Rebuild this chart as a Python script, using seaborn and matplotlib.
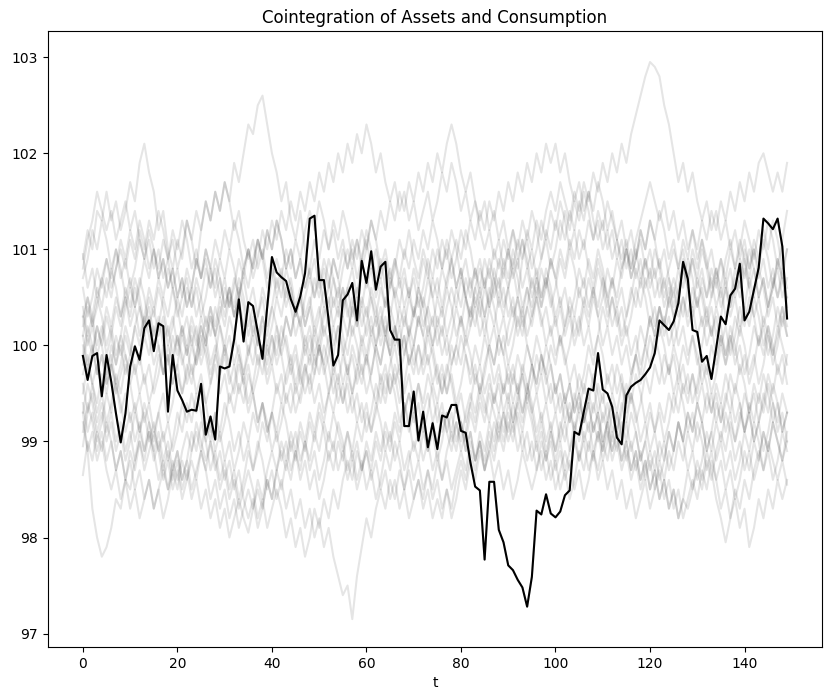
import numpy as np
import pandas as pd
import matplotlib
matplotlib.use("Agg")
import matplotlib.pyplot as plt
import seaborn as sns

title = "Cointegration of Assets and Consumption"
xlabel = "t"

black_path = [99.89, 99.64, 99.89, 99.92, 99.47, 99.90, 99.62, 99.29, 98.99, 99.29,
 99.78, 99.99, 99.85, 100.18, 100.26, 99.94, 100.23, 100.20, 99.31, 99.90,
 99.53, 99.43, 99.31, 99.33, 99.32, 99.60, 99.07, 99.26, 99.02, 99.78,
 99.76, 99.78, 100.06, 100.48, 100.04, 100.45, 100.41, 100.14, 99.86, 100.40,
 100.92, 100.76, 100.71, 100.67, 100.48, 100.35, 100.51, 100.75, 101.32, 101.35,
 100.68, 100.68, 100.26, 99.79, 99.90, 100.47, 100.53, 100.65, 100.26, 100.88,
 100.65, 100.98, 100.58, 100.82, 100.87, 100.16, 100.06, 100.06, 99.16, 99.16,
 99.52, 99.01, 99.31, 98.94, 99.19, 98.92, 99.27, 99.25, 99.38, 99.38,
 99.11, 99.09, 98.78, 98.53, 98.49, 97.77, 98.58, 98.58, 98.08, 97.95,
 97.71, 97.66, 97.56, 97.48, 97.28, 97.59, 98.28, 98.24, 98.45, 98.25,
 98.21, 98.27, 98.44, 98.49, 99.10, 99.07, 99.31, 99.55, 99.53, 99.92,
 99.54, 99.50, 99.36, 99.04, 98.97, 99.48, 99.57, 99.61, 99.64, 99.70,
 99.77, 99.92, 100.26, 100.21, 100.16, 100.25, 100.44, 100.87, 100.69, 100.16,
 100.14, 99.83, 99.89, 99.65, 99.97, 100.30, 100.22, 100.52, 100.59, 100.85,
 100.26, 100.35, 100.58, 100.81, 101.32, 101.27, 101.21, 101.32, 101.03, 100.28]

gray_a = [100.9, 101.2, 101.0, 101.4, 101.3, 101.6, 101.3, 101.5, 101.2, 101.4, 101.7, 101.5, 101.9, 102.1, 101.8,
 101.6, 101.2, 101.4, 101.0, 100.8, 101.1, 100.9, 101.3, 101.1, 100.8, 101.2, 101.5, 101.3, 101.6, 101.4,
 101.7, 101.5, 101.9, 101.7, 102.0, 102.3, 102.2, 102.5, 102.6, 102.3, 102.0, 101.8, 101.5, 101.7, 101.3,
 101.1, 101.4, 101.0, 100.7, 100.9, 100.6, 100.9, 100.7, 100.4, 100.6, 100.3, 100.6, 100.8, 100.5, 100.9,
 101.1, 100.8, 101.0, 100.7, 100.9, 100.6, 100.8, 101.1, 100.9, 101.2, 100.9, 100.7, 101.0, 100.8, 100.5,
 100.7, 100.4, 100.7, 100.9, 100.6, 100.8, 100.5, 100.3, 100.6, 100.4, 100.1, 100.4, 100.2, 100.5, 100.3,
 100.6, 100.8, 100.5, 100.9, 101.1, 100.8, 101.0, 101.3, 101.1, 101.4, 101.2, 101.5, 101.3, 101.0, 101.2,
 100.9, 101.1, 100.8, 100.6, 100.9, 100.7, 100.4, 100.7, 100.5, 100.8, 101.0, 100.7, 100.9, 101.2, 101.0,
 101.3, 101.1, 100.8, 101.0, 100.7, 100.5, 100.8, 100.6, 100.9, 100.7, 100.4, 100.6, 100.3, 100.5, 100.8,
 100.6, 100.9, 101.1, 100.8, 101.0, 101.3, 101.1, 100.9, 101.2, 101.0, 101.3, 101.1, 100.8, 101.1, 101.4]

gray_b = [99.3, 98.9, 98.3, 98.0, 97.8, 97.9, 98.1, 98.4, 98.3, 98.6, 98.5, 98.8, 99.1, 98.9, 99.2,
 99.0, 99.3, 99.5, 99.2, 99.4, 99.7, 99.5, 99.8, 99.6, 99.9, 100.2, 100.0, 100.3, 100.1, 99.8,
 100.0, 99.7, 99.5, 99.8, 99.6, 99.3, 99.5, 99.2, 99.4, 99.1, 99.3, 99.6, 99.4, 99.7, 99.9,
 99.6, 99.8, 100.1, 99.9, 100.2, 100.0, 100.3, 100.5, 100.2, 100.4, 100.1, 99.9, 100.2, 100.0, 99.7,
 99.9, 99.6, 99.4, 99.7, 99.5, 99.8, 100.0, 99.7, 99.9, 100.2, 100.0, 100.3, 100.1, 99.8, 100.0,
 99.7, 99.5, 99.8, 99.6, 99.3, 99.5, 99.2, 99.4, 99.7, 99.5, 99.8, 100.0, 99.8, 100.1, 99.9,
 100.2, 100.4, 100.1, 100.3, 100.0, 99.8, 100.1, 99.9, 99.6, 99.8, 99.5, 99.7, 99.4, 99.6, 99.3,
 99.5, 99.2, 99.4, 99.1, 99.3, 99.0, 99.2, 99.5, 99.3, 99.6, 99.4, 99.7, 99.9, 99.6, 99.8,
 100.1, 99.9, 100.2, 100.0, 99.7, 99.9, 99.6, 99.8, 99.5, 99.7, 99.4, 99.6, 99.3, 99.5, 99.2,
 99.4, 99.1, 99.3, 99.0, 99.2, 99.5, 99.3, 99.6, 99.4, 99.7, 99.5, 99.2, 99.4, 99.1, 99.3]

gray_c = [99.1, 99.4, 99.2, 98.9, 99.1, 98.8, 99.0, 98.7, 98.9, 98.6, 98.9, 98.7, 99.0, 98.8, 99.1,
 98.9, 98.6, 98.8, 98.5, 98.7, 98.9, 98.6, 98.8, 99.1, 98.9, 99.2, 99.0, 98.7, 98.9, 98.6,
 98.8, 98.5, 98.7, 98.4, 98.6, 98.9, 98.7, 99.0, 98.8, 98.5, 98.7, 98.4, 98.6, 98.3, 98.5,
 98.2, 98.4, 98.1, 98.3, 98.0, 98.2, 97.9, 98.1, 97.8, 97.6, 97.4, 97.5, 97.15, 97.6, 97.9,
 98.2, 98.0, 98.3, 98.5, 98.3, 98.6, 98.4, 98.7, 98.5, 98.8, 99.0, 98.8, 99.1, 98.9, 99.2,
 99.0, 99.3, 99.1, 98.9, 99.2, 99.0, 99.3, 99.5, 99.3, 99.6, 99.4, 99.2, 99.5, 99.3, 99.6,
 99.4, 99.7, 99.5, 99.8, 99.6, 99.3, 99.5, 99.2, 99.4, 99.1, 99.3, 99.0, 99.2, 98.9, 99.1,
 98.8, 99.0, 98.7, 98.9, 98.6, 98.8, 98.5, 98.7, 98.4, 98.6, 98.3, 98.5, 98.2, 98.4, 98.6,
 98.3, 98.5, 98.8, 98.6, 98.9, 98.7, 99.0, 98.8, 99.1, 98.9, 99.2, 99.0, 98.7, 98.9, 98.6,
 98.8, 98.5, 98.7, 98.4, 98.6, 98.9, 98.7, 99.0, 98.8, 99.1, 98.9, 99.2, 99.0, 98.8, 99.1]

gray_d = [100.3, 100.0, 100.2, 99.9, 100.1, 100.4, 100.2, 100.5, 100.3, 100.6, 100.4, 100.7, 100.5, 100.2, 100.4,
 100.1, 100.3, 100.0, 100.2, 99.9, 100.1, 99.8, 100.0, 99.7, 99.9, 100.2, 100.0, 100.3, 100.1, 100.4,
 100.2, 100.5, 100.3, 100.6, 100.4, 100.1, 100.3, 100.0, 100.2, 99.9, 100.1, 99.8, 100.0, 100.3, 100.1,
 100.4, 100.2, 100.5, 100.7, 100.5, 100.8, 100.6, 100.9, 100.7, 100.4, 100.6, 100.3, 100.5, 100.2, 100.4,
 100.1, 100.3, 100.0, 100.2, 100.5, 100.3, 100.6, 100.4, 100.7, 100.5, 100.8, 100.6, 100.9, 100.7, 101.0,
 100.8, 101.1, 100.9, 101.2, 101.0, 100.7, 100.9, 100.6, 100.8, 100.5, 100.7, 100.4, 100.6, 100.9, 100.7,
 101.0, 100.8, 101.1, 100.9, 101.2, 101.0, 101.3, 101.1, 101.4, 101.6, 101.4, 101.7, 101.5, 101.3, 101.6,
 101.4, 101.7, 101.5, 101.8, 101.6, 101.9, 101.7, 102.0, 101.8, 102.1, 101.9, 102.2, 102.4, 102.6, 102.8,
 102.95, 102.9, 102.8, 102.5, 102.3, 102.0, 101.7, 101.9, 101.6, 101.8, 101.5, 101.3, 101.5, 101.2, 101.4,
 101.1, 101.3, 101.0, 101.2, 100.9, 101.1, 100.8, 101.0, 100.7, 100.9, 100.6, 100.8, 100.5, 100.7, 100.4]

gray_e = [100.95, 100.6, 100.8, 100.5, 100.7, 100.9, 100.6, 100.8, 101.1, 100.9, 101.2, 101.0, 101.3, 101.1, 100.8,
 101.0, 100.7, 100.9, 100.6, 100.8, 100.5, 100.7, 100.4, 100.6, 100.9, 100.7, 101.0, 100.8, 101.1, 100.9,
 101.2, 101.0, 101.3, 101.1, 100.8, 101.0, 100.7, 100.9, 101.2, 101.0, 101.3, 101.1, 101.4, 101.2, 101.5,
 101.3, 101.6, 101.4, 101.7, 101.5, 101.8, 101.6, 101.9, 101.7, 102.0, 101.8, 102.1, 101.9, 102.2, 102.0,
 102.3, 102.1, 101.8, 102.0, 101.7, 101.5, 101.7, 101.4, 101.6, 101.3, 101.5, 101.2, 101.4, 101.6, 101.3,
 101.5, 101.8, 101.6, 101.9, 101.7, 101.4, 101.6, 101.3, 101.5, 101.2, 101.0, 101.2, 100.9, 101.1, 100.8,
 101.0, 100.7, 100.9, 100.6, 100.8, 100.5, 100.7, 100.4, 100.6, 100.9, 100.7, 101.0, 100.8, 101.1, 100.9,
 101.2, 101.0, 101.3, 101.1, 101.4, 101.2, 101.5, 101.3, 101.1, 101.3, 101.0, 101.2, 100.9, 101.1, 100.8,
 101.0, 100.7, 100.9, 100.6, 100.8, 101.0, 100.8, 101.1, 100.9, 101.2, 101.0, 101.3, 101.1, 101.4, 101.2,
 101.5, 101.3, 101.6, 101.4, 101.7, 101.5, 101.8, 101.6, 101.9, 102.0, 101.8, 101.6, 101.8, 101.6, 101.9]

gray_f = [98.65, 99.0, 98.8, 99.1, 98.9, 99.2, 99.0, 98.7, 98.9, 98.6, 98.8, 98.5, 98.7, 98.4, 98.6,
 98.3, 98.5, 98.7, 98.5, 98.8, 98.6, 98.9, 99.1, 98.9, 99.2, 99.0, 98.8, 99.0, 98.7, 98.9,
 98.6, 98.8, 98.5, 98.7, 98.4, 98.2, 98.4, 98.1, 98.3, 98.6, 98.4, 98.7, 98.5, 98.8, 98.6,
 98.9, 98.7, 99.0, 98.8, 99.1, 98.9, 99.2, 99.0, 99.3, 99.1, 98.9, 99.1, 98.8, 99.0, 98.7,
 98.9, 98.6, 98.8, 98.5, 98.7, 98.4, 98.6, 98.3, 98.5, 98.2, 98.4, 98.6, 98.4, 98.7, 98.5,
 98.8, 98.6, 98.9, 99.1, 98.9, 99.2, 99.0, 99.3, 99.1, 99.4, 99.2, 99.5, 99.3, 99.1, 99.3,
 99.0, 99.2, 98.9, 99.1, 98.8, 99.0, 98.7, 98.9, 98.6, 98.8, 98.5, 98.7, 98.9, 98.7, 99.0,
 98.8, 99.1, 98.9, 99.2, 99.0, 99.3, 99.1, 98.9, 99.1, 98.8, 99.0, 98.7, 98.9, 98.6, 98.8,
 98.5, 98.7, 98.4, 98.6, 98.3, 98.5, 98.2, 98.4, 98.7, 98.5, 98.8, 98.6, 98.9, 98.7, 98.4,
 98.2, 97.95, 98.2, 98.5, 98.3, 98.6, 98.4, 98.7, 98.9, 98.7, 99.0, 98.8, 98.6, 98.8, 98.55]

gray_g = [100.0, 99.7, 99.9, 100.2, 100.0, 100.3, 100.1, 99.8, 100.0, 99.7, 99.9, 100.2, 100.4, 100.2, 100.5,
 100.3, 100.6, 100.4, 100.1, 100.3, 100.0, 100.2, 99.9, 100.1, 99.8, 100.0, 100.3, 100.1, 100.4, 100.2,
 99.9, 100.1, 99.8, 100.0, 99.7, 99.9, 100.2, 100.0, 100.3, 100.1, 100.4, 100.2, 99.9, 100.1, 99.8,
 100.0, 99.7, 99.5, 99.7, 99.4, 99.6, 99.3, 99.5, 99.8, 99.6, 99.9, 99.7, 100.0, 99.8, 100.1,
 99.9, 100.2, 100.0, 100.3, 100.1, 100.4, 100.2, 99.9, 100.1, 99.8, 100.0, 99.7, 99.9, 100.2, 100.0,
 100.3, 100.1, 100.4, 100.6, 100.4, 100.7, 100.5, 100.2, 100.4, 100.1, 100.3, 100.0, 100.2, 99.9, 100.1,
 99.8, 100.0, 100.3, 100.1, 100.4, 100.2, 100.5, 100.3, 100.0, 100.2, 99.9, 100.1, 99.8, 100.0, 100.3,
 100.1, 100.4, 100.2, 100.5, 100.3, 100.0, 100.2, 99.9, 100.1, 99.8, 100.0, 99.7, 99.9, 100.2, 100.0,
 100.3, 100.1, 100.4, 100.2, 100.5, 100.7, 100.5, 100.8, 100.6, 100.3, 100.5, 100.2, 100.4, 100.1, 100.3,
 100.0, 100.2, 99.9, 100.1, 100.4, 100.2, 100.5, 100.3, 100.0, 100.2, 99.9, 100.1, 100.4, 100.2, 100.5]

gray_h = [99.5, 99.8, 99.6, 99.3, 99.5, 99.2, 99.4, 99.7, 99.5, 99.8, 99.6, 99.3, 99.5, 99.2, 99.4,
 99.1, 99.3, 99.0, 99.2, 98.9, 99.1, 99.4, 99.2, 99.5, 99.3, 99.6, 99.4, 99.1, 99.3, 99.0,
 99.2, 99.5, 99.3, 99.6, 99.4, 99.7, 99.5, 99.2, 99.4, 99.1, 99.3, 99.0, 99.2, 99.5, 99.3,
 99.6, 99.4, 99.7, 99.9, 99.7, 100.0, 99.8, 99.5, 99.7, 99.4, 99.6, 99.3, 99.5, 99.2, 99.4,
 99.1, 99.3, 99.6, 99.4, 99.7, 99.5, 99.8, 99.6, 99.3, 99.5, 99.2, 99.4, 99.1, 99.3, 99.6,
 99.4, 99.7, 99.5, 99.8, 100.0, 99.8, 100.1, 99.9, 99.6, 99.8, 99.5, 99.7, 99.4, 99.6, 99.3,
 99.5, 99.2, 99.4, 99.7, 99.5, 99.8, 99.6, 99.9, 99.7, 99.4, 99.6, 99.3, 99.5, 99.2, 99.4,
 99.7, 99.5, 99.8, 99.6, 99.3, 99.5, 99.2, 99.4, 99.1, 99.3, 99.6, 99.4, 99.7, 99.5, 99.2,
 99.4, 99.1, 99.3, 99.0, 99.2, 99.5, 99.3, 99.6, 99.4, 99.7, 99.5, 99.8, 99.6, 99.3, 99.5,
 99.2, 99.4, 99.7, 99.5, 99.8, 99.6, 99.3, 99.5, 99.2, 99.4, 99.7, 99.5, 99.8, 99.6, 99.9]

gray_i = [100.6, 100.3, 100.5, 100.8, 100.6, 100.9, 100.7, 101.0, 100.8, 100.5, 100.7, 100.4, 100.6, 100.9, 100.7,
 101.0, 100.8, 101.1, 100.9, 100.6, 100.8, 100.5, 100.7, 100.4, 100.6, 100.3, 100.5, 100.8, 100.6, 100.9,
 100.7, 101.0, 100.8, 100.5, 100.7, 100.4, 100.6, 100.3, 100.5, 100.2, 100.4, 100.7, 100.5, 100.8, 100.6,
 100.3, 100.5, 100.2, 100.4, 100.1, 100.3, 100.6, 100.4, 100.7, 100.5, 100.8, 101.0, 100.8, 101.1, 100.9,
 101.2, 101.0, 100.7, 100.9, 100.6, 100.8, 100.5, 100.7, 100.4, 100.6, 100.3, 100.5, 100.2, 100.4, 100.7,
 100.5, 100.8, 100.6, 100.9, 101.1, 100.9, 101.2, 101.0, 100.7, 100.9, 100.6, 100.8, 100.5, 100.7, 100.4,
 100.6, 100.3, 100.5, 100.2, 100.4, 100.7, 100.5, 100.8, 100.6, 100.9, 100.7, 100.4, 100.6, 100.3, 100.5,
 100.8, 100.6, 100.9, 100.7, 101.0, 100.8, 100.5, 100.7, 100.4, 100.6, 100.3, 100.5, 100.8, 100.6, 100.9,
 100.7, 101.0, 100.8, 100.5, 100.7, 100.4, 100.6, 100.9, 100.7, 101.0, 100.8, 101.1, 100.9, 100.6, 100.8,
 100.5, 100.7, 100.4, 100.6, 100.9, 100.7, 101.0, 100.8, 100.5, 100.7, 100.4, 100.6, 100.9, 100.7, 100.5]

gray_j = [99.2, 98.9, 99.1, 98.8, 99.0, 98.7, 98.5, 98.7, 98.4, 98.6, 98.3, 98.5, 98.2, 98.4, 98.6,
 98.3, 98.5, 98.2, 98.4, 98.7, 98.5, 98.8, 98.6, 98.9, 99.1, 98.9, 99.2, 99.0, 99.3, 99.1,
 99.4, 99.2, 98.9, 99.1, 98.8, 99.0, 98.7, 98.9, 99.2, 99.0, 99.3, 99.1, 99.4, 99.2, 98.9,
 99.1, 98.8, 99.0, 98.7, 98.9, 98.6, 98.8, 99.1, 98.9, 99.2, 99.0, 98.7, 98.9, 98.6, 98.8,
 98.5, 98.7, 98.4, 98.6, 98.9, 98.7, 99.0, 98.8, 98.5, 98.7, 98.4, 98.6, 98.3, 98.5, 98.2,
 98.4, 98.2, 98.5, 98.3, 98.6, 98.8, 98.6, 98.9, 98.7, 99.0, 98.8, 99.1, 98.9, 99.2, 99.0,
 99.3, 99.1, 99.4, 99.2, 99.5, 99.3, 99.0, 99.2, 98.9, 99.1, 98.8, 99.0, 98.7, 98.9, 99.2,
 99.0, 99.3, 99.1, 99.4, 99.2, 98.9, 99.1, 98.8, 99.0, 98.7, 98.9, 98.6, 98.8, 98.5, 98.7,
 98.9, 98.7, 99.0, 98.8, 99.1, 98.9, 99.2, 99.0, 98.7, 98.9, 98.6, 98.8, 99.1, 98.9, 99.2,
 99.0, 99.3, 99.1, 98.8, 99.0, 98.7, 98.9, 98.6, 98.8, 99.1, 98.9, 99.2, 99.0, 98.8, 99.0]

gray_k = [100.8, 101.1, 101.3, 101.6, 101.4, 101.2, 101.4, 101.1, 101.3, 101.5, 101.2, 101.4, 101.1, 100.9, 101.1,
 100.8, 101.0, 100.7, 100.9, 101.2, 101.0, 101.3, 101.1, 100.8, 101.0, 100.7, 100.9, 100.6, 100.8, 100.5,
 100.7, 100.4, 100.6, 100.9, 100.7, 101.0, 100.8, 101.1, 100.9, 101.2, 101.0, 101.3, 101.1, 100.8, 101.0,
 100.7, 100.9, 100.6, 100.8, 101.1, 100.9, 101.2, 101.0, 101.3, 101.1, 101.4, 101.2, 100.9, 101.1, 100.8,
 101.0, 101.3, 101.1, 101.4, 101.2, 101.5, 101.3, 101.6, 101.4, 101.7, 101.5, 101.8, 101.6, 101.9, 101.7,
 102.0, 101.8, 102.1, 102.3, 102.1, 101.8, 101.6, 101.8, 101.5, 101.3, 101.5, 101.2, 101.4, 101.1, 101.3,
 101.0, 101.2, 100.9, 101.1, 100.8, 101.0, 100.7, 100.9, 101.2, 101.0, 101.3, 101.1, 101.4, 101.2, 101.5,
 101.3, 101.6, 101.4, 101.1, 101.3, 101.0, 101.2, 100.9, 101.1, 100.8, 101.0, 100.7, 100.9, 101.2, 101.0,
 101.3, 101.1, 101.4, 101.2, 100.9, 101.1, 100.8, 101.0, 100.7, 100.9, 100.6, 100.8, 100.5, 100.7, 100.4,
 100.6, 100.3, 100.5, 100.8, 100.6, 100.9, 100.7, 101.0, 100.8, 101.1, 100.9, 100.6, 100.8, 100.5, 100.7]

gray_l = [99.8, 100.1, 99.9, 100.2, 100.0, 99.7, 99.9, 99.6, 99.8, 100.1, 99.9, 100.2, 100.0, 100.3, 100.1,
 99.8, 100.0, 99.7, 99.9, 99.6, 99.8, 99.5, 99.7, 100.0, 99.8, 100.1, 99.9, 99.6, 99.8, 99.5,
 99.7, 99.4, 99.6, 99.9, 99.7, 100.0, 99.8, 100.1, 99.9, 99.6, 99.8, 99.5, 99.7, 99.4, 99.6,
 99.3, 99.5, 99.8, 99.6, 99.9, 99.7, 100.0, 99.8, 99.5, 99.7, 99.4, 99.6, 99.3, 99.5, 99.2,
 99.4, 99.1, 99.3, 99.6, 99.4, 99.7, 99.5, 99.2, 99.4, 99.1, 99.3, 99.0, 99.2, 98.9, 99.1,
 98.8, 99.0, 99.3, 99.1, 99.4, 99.2, 98.9, 99.1, 98.8, 99.0, 98.7, 98.9, 98.6, 98.8, 98.5,
 98.7, 98.4, 98.6, 98.9, 98.7, 98.5, 98.7, 99.0, 98.8, 99.1, 98.9, 99.2, 99.0, 99.3, 99.1,
 99.4, 99.2, 99.5, 99.3, 99.6, 99.4, 99.7, 99.5, 99.8, 99.6, 99.3, 99.5, 99.2, 99.4, 99.7,
 99.5, 99.8, 99.6, 99.9, 99.7, 100.0, 99.8, 99.5, 99.7, 99.4, 99.6, 99.9, 99.7, 100.0, 99.8,
 100.1, 99.9, 100.2, 100.0, 99.7, 99.9, 99.6, 99.8, 100.1, 99.9, 100.2, 100.0, 99.7, 99.9, 99.6]

gray_m = [100.3, 100.5, 100.2, 100.4, 100.7, 100.5, 100.8, 100.6, 100.3, 100.5, 100.2, 100.4, 100.1, 100.3, 100.6,
 100.4, 100.7, 100.5, 100.8, 100.6, 100.3, 100.5, 100.8, 100.6, 100.9, 100.7, 101.0, 100.8, 100.5, 100.7,
 100.4, 100.6, 100.3, 100.5, 100.2, 100.4, 100.1, 100.3, 100.6, 100.4, 100.7, 100.9, 100.7, 101.0, 100.8,
 101.1, 100.9, 101.2, 101.4, 101.2, 101.5, 101.3, 101.0, 101.2, 100.9, 101.1, 100.8, 101.0, 100.7, 100.9,
 100.6, 100.8, 100.5, 100.7, 100.4, 100.6, 100.9, 100.7, 101.0, 100.8, 101.1, 100.9, 101.2, 101.0, 101.3,
 101.1, 100.8, 101.0, 100.7, 100.9, 101.2, 101.0, 101.3, 101.1, 101.4, 101.2, 101.5, 101.3, 101.6, 101.4,
 101.7, 101.5, 101.8, 101.6, 101.9, 101.7, 102.0, 101.8, 102.1, 101.9, 102.1, 101.8, 102.0, 101.7, 101.5,
 101.7, 101.4, 101.6, 101.3, 101.1, 101.3, 101.0, 101.2, 100.9, 101.1, 100.8, 101.0, 100.7, 100.9, 100.6,
 100.8, 100.5, 100.7, 100.4, 100.6, 100.3, 100.5, 100.8, 100.6, 100.9, 100.7, 101.0, 100.8, 100.5, 100.7,
 100.4, 100.6, 100.3, 100.5, 100.2, 100.4, 100.7, 100.5, 100.8, 100.6, 100.3, 100.5, 100.2, 100.4, 100.1]

gray_n = [99.6, 99.3, 99.5, 99.2, 99.4, 99.1, 99.3, 99.0, 99.2, 98.9, 99.1, 98.8, 99.0, 98.7, 98.9,
 99.1, 98.9, 98.6, 98.8, 98.5, 98.7, 98.4, 98.6, 98.8, 98.6, 98.9, 98.7, 98.4, 98.6, 98.3,
 98.5, 98.2, 98.4, 98.1, 98.3, 98.5, 98.3, 98.6, 98.4, 98.7, 98.9, 98.7, 99.0, 98.8, 99.1,
 98.9, 99.2, 99.0, 99.3, 99.1, 99.4, 99.2, 99.5, 99.3, 99.6, 99.4, 99.7, 99.5, 99.8, 99.6,
 99.9, 99.7, 100.0, 99.8, 100.1, 99.9, 99.6, 99.8, 99.5, 99.7, 99.4, 99.6, 99.3, 99.5, 99.2,
 99.4, 99.1, 99.3, 99.0, 99.2, 98.9, 99.1, 99.4, 99.2, 99.5, 99.3, 99.6, 99.4, 99.7, 99.5,
 99.8, 99.6, 99.9, 99.7, 100.0, 99.8, 99.5, 99.7, 99.4, 99.6, 99.3, 99.5, 99.2, 99.4, 99.1,
 99.3, 99.0, 99.2, 98.9, 99.1, 98.8, 99.0, 99.3, 99.1, 99.4, 99.2, 99.5, 99.3, 99.0, 99.2,
 98.9, 99.1, 98.8, 99.0, 98.7, 98.9, 99.2, 99.0, 99.3, 99.1, 99.4, 99.2, 99.5, 99.3, 99.6,
 99.4, 99.7, 99.5, 99.2, 99.4, 99.1, 99.3, 99.0, 99.2, 99.5, 99.3, 99.6, 99.4, 99.1, 99.3]

gray_o = [100.4, 100.1, 100.3, 100.6, 100.4, 100.7, 100.5, 100.8, 101.0, 100.8, 101.1, 100.9, 101.2, 101.0, 101.3,
 101.1, 101.4, 101.2, 100.9, 101.1, 100.8, 101.0, 101.3, 101.1, 101.4, 101.2, 101.5, 101.3, 101.6, 101.4,
 101.7, 101.5, 101.2, 101.4, 101.1, 100.9, 101.1, 100.8, 101.0, 100.7, 100.9, 100.6, 100.8, 100.5, 100.7,
 100.4, 100.6, 100.3, 100.5, 100.2, 100.4, 100.1, 100.3, 100.0, 100.2, 99.9, 100.1, 100.4, 100.2, 100.5,
 100.3, 100.6, 100.4, 100.1, 100.3, 100.0, 100.2, 99.9, 100.1, 99.8, 100.0, 100.3, 100.1, 100.4, 100.2,
 100.5, 100.3, 100.6, 100.4, 100.1, 100.3, 100.0, 100.2, 100.5, 100.3, 100.6, 100.4, 100.7, 100.5, 100.8,
 100.6, 100.9, 100.7, 100.4, 100.6, 100.3, 100.5, 100.2, 100.4, 100.1, 100.3, 100.0, 100.2, 100.5, 100.3,
 100.6, 100.4, 100.7, 100.5, 100.8, 100.6, 100.3, 100.5, 100.2, 100.4, 100.1, 100.3, 100.6, 100.4, 100.7,
 100.5, 100.2, 100.4, 100.1, 100.3, 100.0, 100.2, 100.5, 100.3, 100.6, 100.4, 100.7, 100.5, 100.8, 100.6,
 100.9, 100.7, 101.0, 100.8, 101.1, 100.9, 100.6, 100.8, 100.5, 100.7, 100.4, 100.6, 100.9, 100.7, 101.0]

gray_p = [99.3, 99.6, 99.4, 99.1, 99.3, 99.0, 99.2, 98.9, 99.1, 98.8, 99.0, 99.3, 99.1, 99.4, 99.2,
 98.9, 99.1, 98.8, 99.0, 98.7, 98.9, 98.6, 98.8, 98.5, 98.7, 98.9, 98.7, 99.0, 98.8, 98.5,
 98.7, 98.4, 98.6, 98.3, 98.5, 98.7, 98.5, 98.2, 98.4, 98.1, 98.3, 98.5, 98.3, 98.0, 98.2,
 97.9, 98.1, 97.8, 98.0, 98.3, 98.1, 98.4, 98.2, 98.5, 98.3, 98.6, 98.8, 98.6, 98.9, 98.7,
 99.0, 98.8, 99.1, 98.9, 99.2, 99.0, 99.3, 99.1, 99.4, 99.2, 98.9, 99.1, 98.8, 99.0, 98.7,
 98.9, 98.6, 98.8, 98.5, 98.7, 98.9, 98.7, 99.0, 98.8, 99.1, 98.9, 99.2, 99.0, 99.3, 99.1,
 99.4, 99.2, 99.5, 99.3, 99.6, 99.4, 99.1, 99.3, 99.0, 99.2, 98.9, 99.1, 99.4, 99.2, 99.5,
 99.3, 99.6, 99.4, 99.7, 99.5, 99.2, 99.4, 99.1, 99.3, 99.0, 99.2, 98.9, 99.1, 98.8, 99.0,
 99.3, 99.1, 99.4, 99.2, 99.5, 99.3, 99.6, 99.4, 99.1, 99.3, 99.0, 99.2, 98.9, 99.1, 99.4,
 99.2, 99.5, 99.3, 99.6, 99.4, 99.1, 99.3, 99.0, 99.2, 98.9, 99.1, 99.4, 99.2, 99.5, 99.3]

gray_q = [100.1, 99.8, 100.0, 99.7, 99.9, 99.6, 99.8, 100.1, 99.9, 100.2, 100.0, 99.7, 99.9, 99.6, 99.8,
 99.5, 99.7, 100.0, 99.8, 100.1, 99.9, 100.2, 100.0, 100.3, 100.1, 99.8, 100.0, 99.7, 99.9, 100.2,
 100.0, 100.3, 100.1, 100.4, 100.2, 99.9, 100.1, 99.8, 100.0, 99.7, 99.9, 100.2, 100.0, 100.3, 100.1,
 100.4, 100.2, 99.9, 100.1, 99.8, 100.0, 99.7, 99.9, 100.2, 100.0, 100.3, 100.1, 100.4, 100.6, 100.4,
 100.7, 100.5, 100.2, 100.4, 100.1, 100.3, 100.0, 100.2, 99.9, 100.1, 100.4, 100.2, 100.5, 100.3, 100.0,
 100.2, 99.9, 100.1, 99.8, 100.0, 100.3, 100.1, 100.4, 100.2, 100.5, 100.3, 100.6, 100.4, 100.1, 100.3,
 100.0, 100.2, 100.5, 100.3, 100.6, 100.4, 100.7, 100.5, 100.8, 100.6, 100.3, 100.5, 100.2, 100.4, 100.1,
 100.3, 100.0, 100.2, 99.9, 100.1, 100.4, 100.2, 100.5, 100.3, 100.0, 100.2, 99.9, 100.1, 99.8, 100.0,
 100.3, 100.1, 100.4, 100.2, 100.5, 100.3, 100.0, 100.2, 99.9, 100.1, 99.8, 100.0, 100.3, 100.1, 100.4,
 100.2, 99.9, 100.1, 99.8, 100.0, 99.7, 99.9, 100.2, 100.0, 100.3, 100.1, 99.8, 100.0, 100.3, 100.1]

gray_r = [99.7, 99.9, 99.6, 99.8, 99.5, 99.7, 100.0, 99.8, 100.1, 99.9, 99.6, 99.8, 99.5, 99.7, 99.4,
 99.6, 99.9, 99.7, 100.0, 99.8, 100.1, 99.9, 99.6, 99.8, 99.5, 99.7, 99.4, 99.6, 99.9, 99.7,
 100.0, 99.8, 100.1, 99.9, 99.6, 99.8, 99.5, 99.7, 100.0, 99.8, 100.1, 99.9, 100.2, 100.0, 99.7,
 99.9, 99.6, 99.8, 99.5, 99.7, 100.0, 99.8, 100.1, 99.9, 100.2, 100.0, 99.7, 99.9, 99.6, 99.8,
 99.5, 99.7, 100.0, 99.8, 100.1, 99.9, 100.2, 100.0, 100.3, 100.1, 99.8, 100.0, 99.7, 99.9, 99.6,
 99.8, 99.5, 99.7, 100.0, 99.8, 100.1, 99.9, 99.6, 99.8, 99.5, 99.7, 100.0, 99.8, 100.1, 99.9,
 99.6, 99.8, 99.5, 99.7, 99.4, 99.6, 99.9, 99.7, 100.0, 99.8, 99.5, 99.7, 99.4, 99.6, 99.3,
 99.5, 99.2, 99.4, 99.1, 99.3, 99.0, 99.2, 98.9, 99.1, 98.8, 99.0, 98.7, 98.9, 98.6, 98.8,
 98.5, 98.7, 98.4, 98.6, 98.3, 98.5, 98.2, 98.4, 98.3, 98.5, 98.7, 98.5, 98.8, 98.6, 98.9,
 99.1, 98.9, 99.2, 99.0, 99.3, 99.1, 99.4, 99.2, 99.5, 99.3, 99.6, 99.4, 99.1, 99.3, 99.0]

gray_s = [100.2, 100.5, 100.3, 100.0, 100.2, 99.9, 100.1, 100.4, 100.2, 100.5, 100.3, 100.6, 100.4, 100.1, 100.3,
 100.0, 100.2, 100.5, 100.3, 100.6, 100.4, 100.1, 100.3, 100.0, 100.2, 99.9, 100.1, 100.4, 100.2, 100.5,
 100.3, 100.6, 100.4, 100.7, 100.5, 100.2, 100.4, 100.1, 100.3, 100.0, 100.2, 100.5, 100.3, 100.6, 100.4,
 100.1, 100.3, 100.0, 100.2, 99.9, 100.1, 100.4, 100.2, 100.5, 100.3, 100.6, 100.4, 100.1, 100.3, 100.0,
 100.2, 100.5, 100.3, 100.6, 100.4, 100.7, 100.5, 100.2, 100.4, 100.1, 100.3, 100.6, 100.4, 100.7, 100.5,
 100.2, 100.4, 100.1, 100.3, 100.6, 100.4, 100.7, 100.5, 100.8, 100.6, 100.9, 100.7, 101.0, 100.8, 101.1,
 100.9, 101.2, 101.0, 101.3, 101.1, 101.4, 101.2, 100.9, 101.1, 100.8, 101.0, 101.3, 101.1, 101.4, 101.2,
 101.5, 101.3, 101.6, 101.4, 101.7, 101.5, 101.2, 101.4, 101.1, 100.9, 101.1, 100.8, 101.0, 100.7, 100.9,
 100.6, 100.8, 100.5, 100.7, 100.4, 100.6, 100.3, 100.5, 100.2, 100.4, 100.1, 100.3, 100.0, 100.2, 99.9,
 100.1, 99.8, 100.0, 100.3, 100.1, 100.4, 100.2, 100.5, 100.3, 100.0, 100.2, 99.9, 100.1, 100.4, 100.2]

gray_t = [98.95, 99.3, 99.6, 99.4, 99.7, 99.5, 99.8, 99.6, 99.3, 99.5, 99.2, 99.4, 99.1, 99.3, 99.0,
 99.2, 98.9, 99.1, 98.8, 99.0, 99.3, 99.1, 99.4, 99.2, 99.5, 99.3, 99.0, 99.2, 98.9, 99.1,
 98.8, 99.0, 98.7, 98.9, 99.2, 99.0, 99.3, 99.1, 99.4, 99.2, 98.9, 99.1, 98.8, 99.0, 98.7,
 98.9, 98.6, 98.8, 98.5, 98.7, 98.4, 98.6, 98.9, 98.7, 99.0, 98.8, 99.1, 98.9, 99.2, 99.0,
 99.3, 99.1, 99.4, 99.2, 98.9, 99.1, 98.8, 99.0, 98.7, 98.9, 98.6, 98.8, 98.5, 98.7, 98.4,
 98.6, 98.3, 98.5, 98.2, 98.4, 98.7, 98.5, 98.8, 98.6, 98.9, 98.7, 99.0, 98.8, 99.1, 98.9,
 99.2, 99.0, 99.3, 99.1, 99.4, 99.2, 98.9, 99.1, 98.8, 99.0, 98.7, 98.9, 98.6, 98.8, 98.5,
 98.7, 98.4, 98.6, 98.9, 98.7, 99.0, 98.8, 99.1, 98.9, 99.2, 99.0, 99.3, 99.1, 98.8, 99.0,
 98.7, 98.9, 98.6, 98.8, 99.1, 98.9, 99.2, 99.0, 99.3, 99.1, 99.4, 99.2, 98.9, 99.1, 98.8,
 99.0, 98.7, 98.9, 98.6, 98.8, 99.1, 98.9, 99.2, 99.0, 98.7, 98.9, 98.6, 98.8, 99.1, 98.9]

gray_u = [100.7, 100.9, 101.2, 101.0, 101.3, 101.1, 100.8, 101.0, 100.7, 100.9, 100.6, 100.8, 101.1, 100.9, 101.2,
 101.0, 100.7, 100.9, 100.6, 100.8, 100.5, 100.7, 100.4, 100.6, 100.3, 100.5, 100.8, 100.6, 100.9, 100.7,
 100.4, 100.6, 100.3, 100.5, 100.8, 100.6, 100.9, 101.1, 100.9, 101.2, 101.0, 101.3, 101.1, 100.8, 101.0,
 100.7, 100.9, 100.6, 100.8, 100.5, 100.7, 100.4, 100.6, 100.9, 100.7, 101.0, 100.8, 101.1, 100.9, 101.2,
 101.0, 101.3, 101.1, 100.8, 101.0, 100.7, 100.9, 100.6, 100.8, 100.5, 100.7, 100.4, 100.6, 100.9, 100.7,
 101.0, 100.8, 101.1, 100.9, 100.6, 100.8, 100.5, 100.7, 100.4, 100.6, 100.3, 100.5, 100.8, 100.6, 100.9,
 100.7, 101.0, 100.8, 101.1, 100.9, 100.6, 100.8, 100.5, 100.7, 100.4, 100.6, 100.9, 100.7, 101.0, 100.8,
 100.5, 100.7, 100.4, 100.6, 100.3, 100.5, 100.8, 100.6, 100.9, 100.7, 101.0, 100.8, 101.1, 101.3, 101.5,
 101.7, 101.5, 101.3, 101.5, 101.2, 101.4, 101.1, 101.3, 101.0, 101.2, 100.9, 101.1, 100.8, 101.0, 100.7,
 100.9, 100.6, 100.8, 100.5, 100.7, 101.0, 100.8, 101.1, 100.9, 101.2, 101.0, 101.3, 101.1, 100.8, 101.0]

gray_v = [99.9, 100.2, 100.0, 99.7, 99.9, 99.6, 99.8, 99.5, 99.7, 99.9, 99.7, 100.0, 99.8, 100.1, 99.9,
 100.2, 100.0, 99.7, 99.9, 99.6, 99.8, 100.1, 99.9, 100.2, 100.0, 100.3, 100.1, 99.8, 100.0, 99.7,
 99.9, 99.6, 99.8, 99.5, 99.7, 99.4, 99.6, 99.9, 99.7, 100.0, 99.8, 100.1, 99.9, 99.6, 99.8,
 99.5, 99.7, 100.0, 99.8, 100.1, 99.9, 100.2, 100.0, 99.7, 99.9, 99.6, 99.8, 99.5, 99.7, 100.0,
 99.8, 100.1, 99.9, 99.6, 99.8, 99.5, 99.7, 99.4, 99.6, 99.9, 99.7, 100.0, 99.8, 100.1, 99.9,
 99.6, 99.8, 99.5, 99.7, 99.4, 99.6, 99.9, 99.7, 100.0, 99.8, 100.1, 99.9, 99.6, 99.8, 99.5,
 99.7, 99.4, 99.6, 99.3, 99.5, 99.8, 99.6, 99.9, 99.7, 100.0, 99.8, 100.1, 99.9, 99.6, 99.8,
 99.5, 99.7, 100.0, 99.8, 100.1, 99.9, 99.6, 99.8, 99.5, 99.7, 99.4, 99.6, 99.9, 99.7, 100.0,
 99.8, 100.1, 99.9, 99.6, 99.8, 99.5, 99.7, 100.0, 99.8, 100.1, 99.9, 99.6, 99.8, 99.5, 99.7,
 100.0, 99.8, 100.1, 99.9, 100.2, 100.0, 99.7, 99.9, 99.6, 99.8, 100.1, 99.9, 100.2, 100.0, 99.8]

gray_w = [99.4, 99.1, 99.3, 99.0, 99.2, 99.5, 99.3, 99.6, 99.4, 99.1, 99.3, 99.0, 99.2, 98.9, 99.1,
 98.8, 99.0, 98.7, 98.9, 98.6, 98.8, 98.5, 98.7, 98.4, 98.6, 98.3, 98.5, 98.2, 98.4, 98.1,
 98.3, 98.0, 98.2, 98.4, 98.2, 98.05, 98.3, 98.5, 98.3, 98.6, 98.4, 98.7, 98.9, 98.7, 99.0,
 98.8, 99.1, 98.9, 99.2, 99.0, 99.3, 99.1, 98.8, 99.0, 98.7, 98.9, 98.6, 98.8, 98.5, 98.7,
 98.9, 98.7, 99.0, 98.8, 99.1, 98.9, 99.2, 99.0, 99.3, 99.5, 99.3, 99.6, 99.4, 99.7, 99.5,
 99.2, 99.4, 99.1, 99.3, 99.0, 99.2, 98.9, 99.1, 98.8, 99.0, 98.7, 98.9, 99.2, 99.0, 99.3,
 99.1, 99.4, 99.2, 98.9, 99.1, 98.8, 99.0, 98.7, 98.9, 98.6, 98.8, 98.5, 98.7, 98.4, 98.6,
 98.9, 98.7, 99.0, 98.8, 99.1, 98.9, 99.2, 99.0, 99.3, 99.1, 98.8, 99.0, 98.7, 98.9, 98.6,
 98.8, 98.5, 98.7, 98.4, 98.6, 98.3, 98.5, 98.2, 98.4, 98.6, 98.4, 98.7, 98.5, 98.8, 98.6,
 98.3, 98.5, 98.2, 98.4, 98.1, 98.3, 97.9, 98.1, 98.4, 98.2, 98.5, 98.3, 98.6, 98.4, 98.6]

gray_x = [100.1, 100.4, 100.2, 100.5, 100.3, 100.0, 100.2, 99.9, 100.1, 100.4, 100.6, 100.4, 100.7, 100.5, 100.2,
 100.4, 100.1, 100.3, 100.0, 100.2, 100.5, 100.3, 100.6, 100.4, 100.7, 100.5, 100.2, 100.4, 100.1, 100.3,
 100.6, 100.4, 100.7, 100.5, 100.8, 101.0, 100.8, 101.1, 100.9, 100.6, 100.8, 100.5, 100.7, 100.4, 100.6,
 100.3, 100.5, 100.2, 100.4, 100.7, 100.5, 100.8, 100.6, 100.9, 100.7, 100.4, 100.6, 100.3, 100.5, 100.2,
 100.4, 100.1, 100.3, 100.0, 100.2, 99.9, 100.1, 100.4, 100.2, 100.5, 100.3, 100.6, 100.4, 100.1, 100.3,
 100.0, 100.2, 99.9, 100.1, 100.4, 100.2, 100.5, 100.3, 100.6, 100.8, 100.6, 100.9, 100.7, 100.4, 100.6,
 100.3, 100.5, 100.2, 100.4, 100.1, 100.3, 100.6, 100.4, 100.7, 100.5, 100.2, 100.4, 100.1, 100.3, 100.0,
 100.2, 100.5, 100.3, 100.6, 100.4, 100.7, 100.5, 100.2, 100.4, 100.1, 100.3, 100.6, 100.4, 100.7, 100.5,
 100.2, 100.4, 100.1, 100.3, 100.0, 100.2, 100.5, 100.3, 100.6, 100.4, 100.7, 100.5, 100.2, 100.4, 100.1,
 100.3, 100.6, 100.4, 100.7, 100.5, 100.8, 100.6, 100.3, 100.5, 100.2, 100.4, 100.7, 100.5, 100.8, 100.6]

gray_paths = [black_path, gray_a, gray_b, gray_c, gray_d, gray_e, gray_f, gray_g, gray_h,
              gray_i, gray_j, gray_k, gray_l, gray_m, gray_n, gray_o, gray_p, gray_q,
              gray_r, gray_s, gray_t, gray_u, gray_v, gray_w, gray_x]

rows = []
for pid, vals in enumerate(gray_paths):
    for t, v in enumerate(vals):
        rows.append((pid, t, v))
df_all = pd.DataFrame(rows, columns=["path", "t", "value"])
df_black = pd.DataFrame({"t": np.arange(len(black_path)), "value": black_path})

fig, ax = plt.subplots(figsize=(8.31, 7.0), dpi=100)
fig.subplots_adjust(left=0.0574, right=0.9895, top=0.9553, bottom=0.0757)

sns.lineplot(data=df_all, x="t", y="value", units="path", estimator=None,
             color="k", alpha=0.1, lw=1.5, ax=ax, legend=False)
sns.lineplot(data=df_black, x="t", y="value", color="k", lw=1.5, ax=ax, legend=False)

ax.set_title(title, fontsize=12)
ax.set_xlabel(xlabel)
ax.set_ylabel("")
ax.set_xticks([0, 20, 40, 60, 80, 100, 120, 140])
ax.set_yticks([97, 98, 99, 100, 101, 102, 103])
ax.set_xlim(-7.45, 156.45)
ax.set_ylim(96.86, 103.27)

fig.savefig("out.png", dpi=100)
